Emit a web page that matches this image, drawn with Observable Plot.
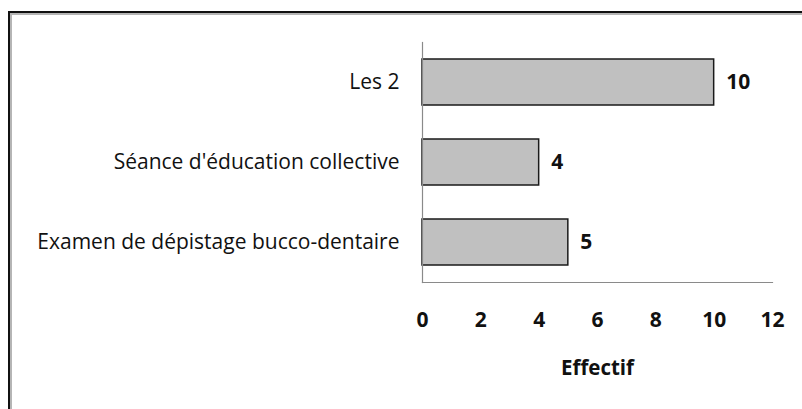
<!DOCTYPE html>
<html>
<head>
<meta charset="utf-8">
<script src="https://cdn.jsdelivr.net/npm/d3@7"></script>
<script src="https://cdn.jsdelivr.net/npm/@observablehq/plot@0.6"></script>
<style>
  html, body { margin: 0; padding: 0; background: #fff; }
  #wrap { position: relative; width: 802px; height: 409px; overflow: hidden; background: #fff; }
  #border { position: absolute; left: 8px; top: 11px; width: 900px; height: 500px;
            border-top: 2px solid #111; border-left: 2px solid #111;
            box-shadow: inset 2px 2px 0 #b5b5b5; pointer-events: none; }
  #chart { position: absolute; left: 0; top: 0; }
</style>
</head>
<body>
<div id="wrap"><div id="chart"></div><div id="border"></div></div>
<script>
const categories = ["Les 2", "Séance d'éducation collective", "Examen de dépistage bucco-dentaire"];
const values = [10, 4, 5];
const xTicks = [0, 2, 4, 6, 8, 10, 12];
const axisTitle = "Effectif";

const data = categories.map((c, i) => ({category: c, value: values[i]}));
const font = "'Open Sans', sans-serif";

const chart = Plot.plot({
  width: 802,
  height: 409,
  marginLeft: 422,
  marginRight: 30,
  marginTop: 42,
  marginBottom: 127,
  style: {fontFamily: font, fontSize: "19px", color: "#111", background: "transparent"},
  x: {domain: [0, 12], label: null},
  y: {domain: categories, padding: 0, label: null},
  marks: [
    Plot.barX(data, {x: "value", y: "category", fill: "#c0c0c0", stroke: "#1a1a1a", strokeWidth: 1.5, insetTop: 17, insetBottom: 17}),
    Plot.frame({anchor: "left", stroke: "#8a8a8a", strokeWidth: 1.2}),
    Plot.frame({anchor: "bottom", stroke: "#8a8a8a", strokeWidth: 1.2}),
    Plot.axisY({tickSize: 0, tickPadding: 23, fontSize: 21, label: null}),
    Plot.axisX({ticks: xTicks, tickSize: 0, tickPadding: 30, fontSize: 21, fontWeight: "bold", label: null}),
    Plot.text(data, {x: "value", y: "category", text: d => String(d.value), dx: 12, textAnchor: "start", fontWeight: "bold", fontSize: 21}),
    Plot.text([axisTitle], {text: d => d, frameAnchor: "bottom", dy: 86, lineAnchor: "middle", fontWeight: "bold", fontSize: 20.5})
  ]
});
document.getElementById("chart").appendChild(chart);
</script>
</body>
</html>
